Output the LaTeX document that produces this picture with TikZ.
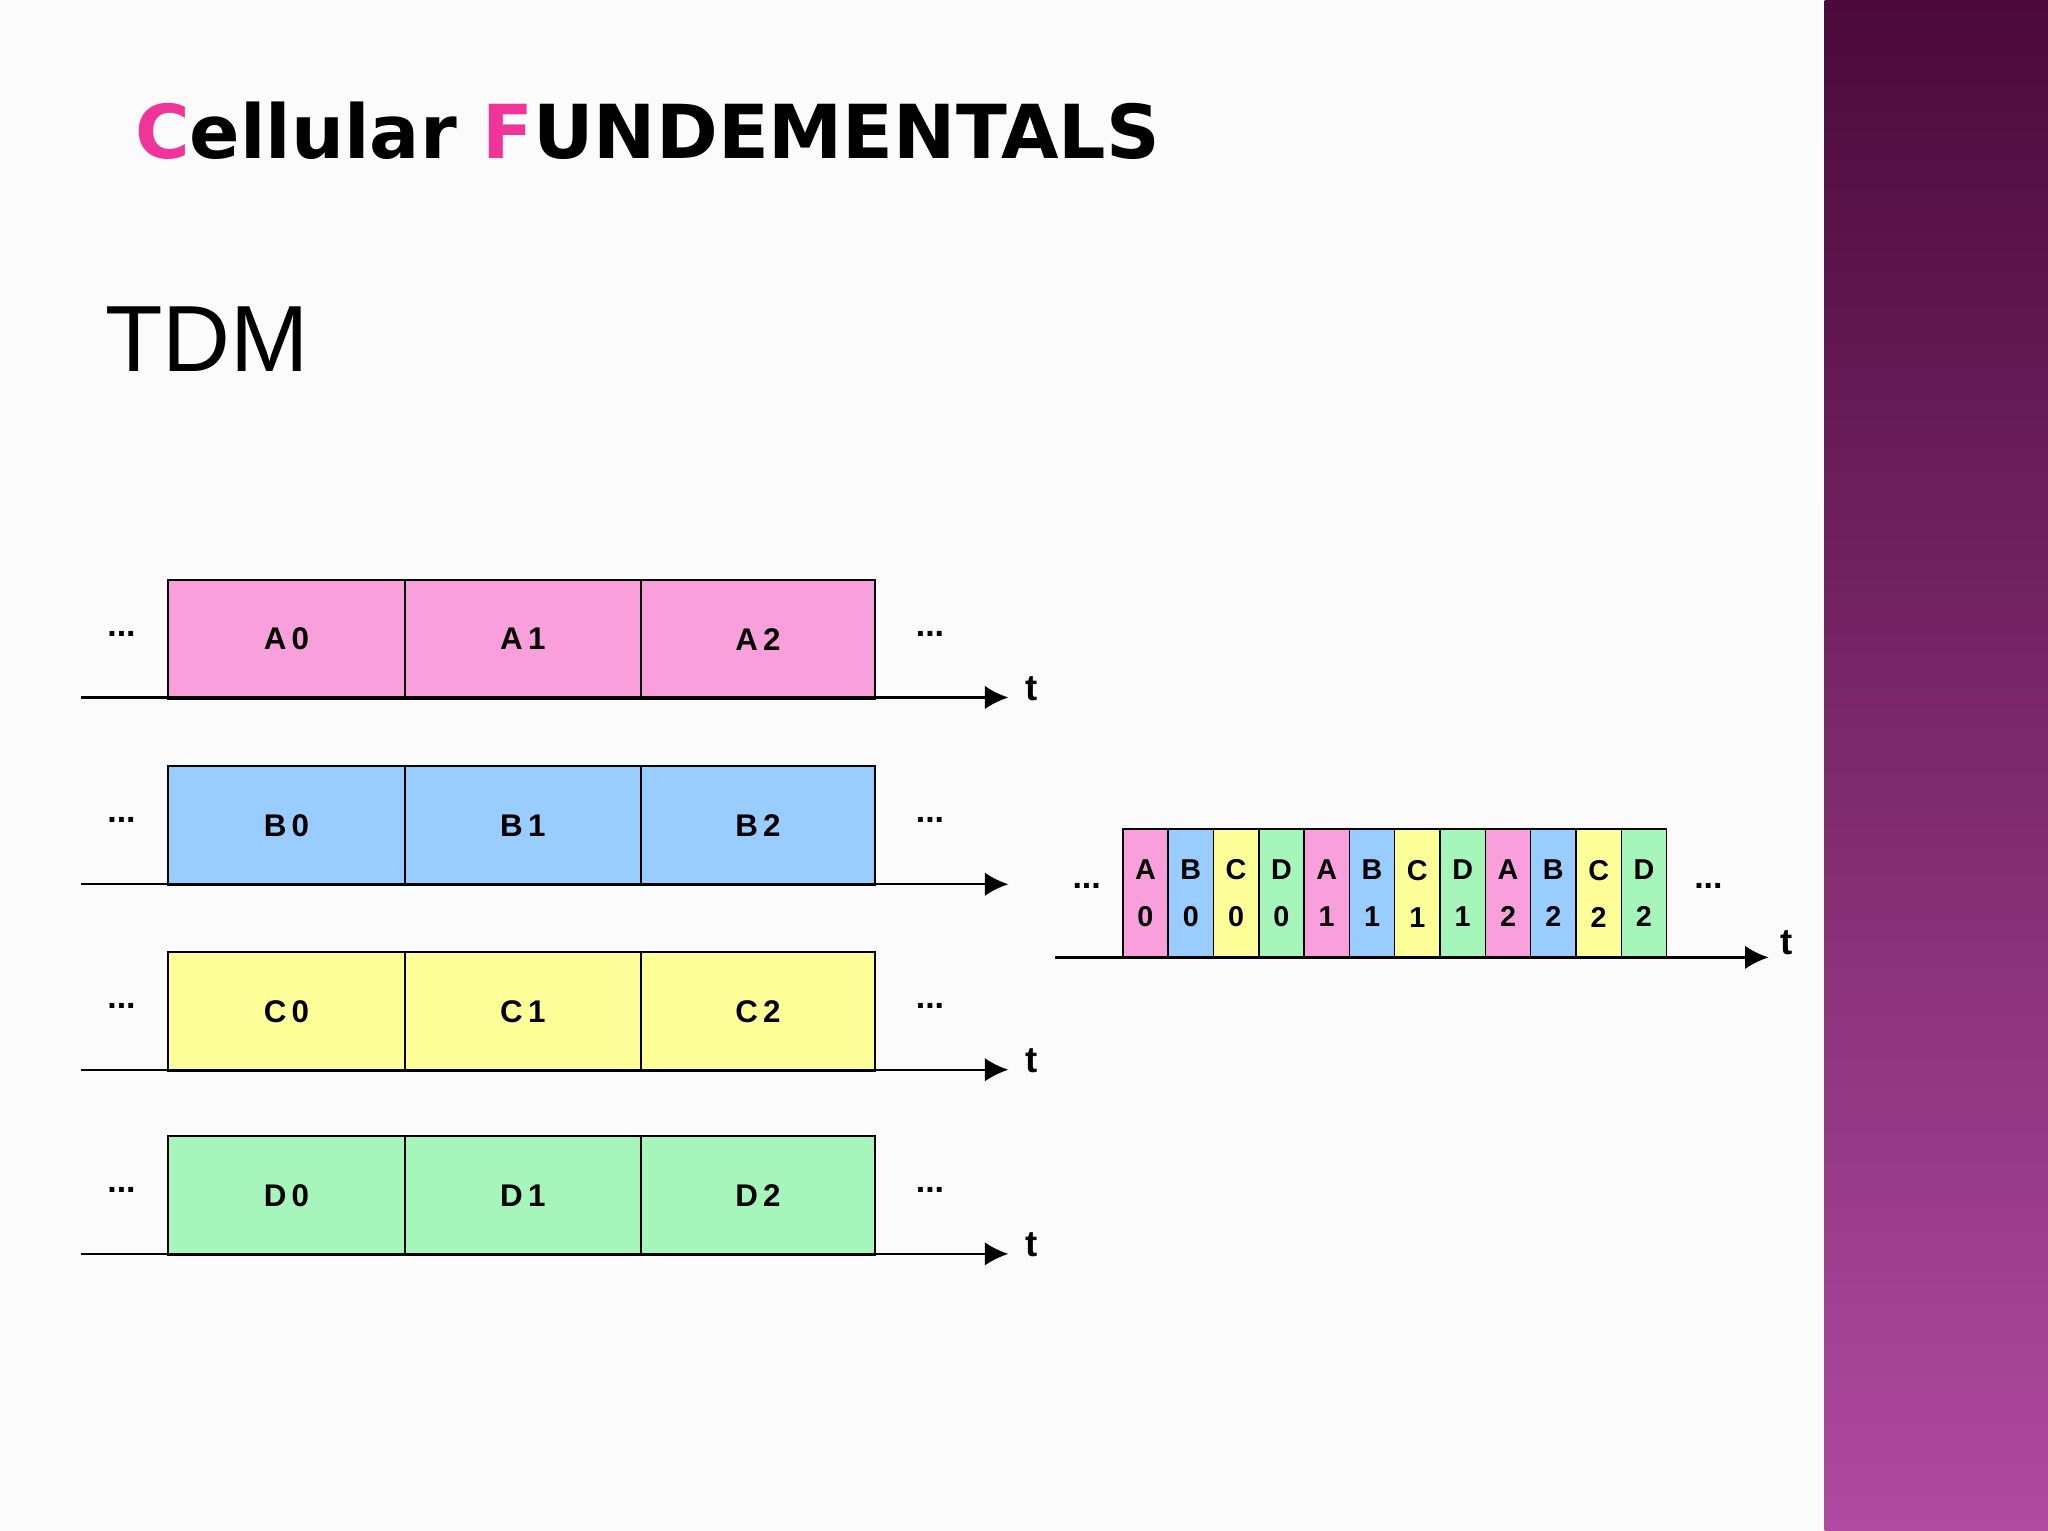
\documentclass[tikz,border=0pt]{standalone}
\usepackage{fontspec}
\setmainfont{Liberation Sans}
\newfontfamily\titlefont{DejaVu Sans}
\definecolor{bgc}{HTML}{FBFBFB}
\definecolor{pinkc}{HTML}{F9A0DC}
\definecolor{bluec}{HTML}{99CCFF}
\definecolor{yelc}{HTML}{FFFF99}
\definecolor{grnc}{HTML}{A6F5BA}
\definecolor{titlepink}{HTML}{F0359A}
\definecolor{bandtop}{HTML}{4A0A3A}
\definecolor{bandbot}{HTML}{B04AA0}
\tikzset{
  slot/.style={draw=black, line width=0.8pt, anchor=north west, minimum height=45.5pt, inner sep=0pt, font=\bfseries\fontsize{12}{12}\selectfont},
  cell/.style={draw=black, line width=0.6pt, anchor=north west, minimum width=17.35pt, minimum height=49.5pt, inner sep=0pt, align=center, font=\bfseries\fontsize{11}{18}\selectfont},
  axis/.style={line width=0.9pt, -{Latex[length=9pt,width=9pt]}},
  tl/.style={font=\bfseries\fontsize{14}{14}\selectfont},
  dots/.style={font=\bfseries\fontsize{13}{13}\selectfont}
}
\usetikzlibrary{arrows.meta}
\begin{document}
\begin{tikzpicture}[x=0.5pt,y=-0.5pt]
\useasboundingbox (0,0) rectangle (1568,1172);
\fill[bgc] (0,0) rectangle (1397,1172);
\shade[top color=bandtop, bottom color=bandbot] (1397,0) rectangle (1568,1172);
\node[anchor=west, inner sep=0pt, font=\titlefont\bfseries\fontsize{28.5}{29}\selectfont] (title) at (103,100) {\textcolor{titlepink}{C}ellular \textcolor{titlepink}{F}UNDEMENTALS};
\node[anchor=west, inner sep=0pt, font=\fontsize{36}{36}\selectfont] (tdm) at (80,260) {TDM};
\foreach \r/\y/\c/\L/\showt in {A/443/pinkc/A/1, B/586/bluec/B/0, C/728/yelc/C/1, D/869/grnc/D/1}{
  \node[slot, fill=\c, minimum width=90.5pt] (\r0) at (128,\y) {\L\,0};
  \node[slot, fill=\c, minimum width=90.5pt] (\r1) at (309,\y) {\L\,1};
  \node[slot, fill=\c, minimum width=89.5pt] (\r2) at (490,\y) {\L\,2};
  \coordinate (\r s) at (62,\y+91);
  \coordinate (\r e) at (772,\y+91);
  \draw[axis] (\r s) -- (\r e);
  \node[dots] (\r dl) at (93,\y+42) {...};
  \node[dots] (\r dr) at (712,\y+42) {...};
  \ifnum\showt=1 \node[tl] (\r t) at (790,\y+84) {t};\fi
}
\foreach \i/\L/\n/\c in {0/A/0/pinkc,1/B/0/bluec,2/C/0/yelc,3/D/0/grnc,4/A/1/pinkc,5/B/1/bluec,6/C/1/yelc,7/D/1/grnc,8/A/2/pinkc,9/B/2/bluec,10/C/2/yelc,11/D/2/grnc}{
  \node[cell, fill=\c] (m\i) at ({859+34.7*\i},634) {\L\\\n};
}
\coordinate (ms) at (808,733);
\coordinate (me) at (1354,733);
\draw[axis] (ms) -- (me);
\node[dots] (mdl) at (832,678) {...};
\node[dots] (mdr) at (1308,678) {...};
\node[tl] (mt) at (1368,722) {t};
\end{tikzpicture}
\end{document}
